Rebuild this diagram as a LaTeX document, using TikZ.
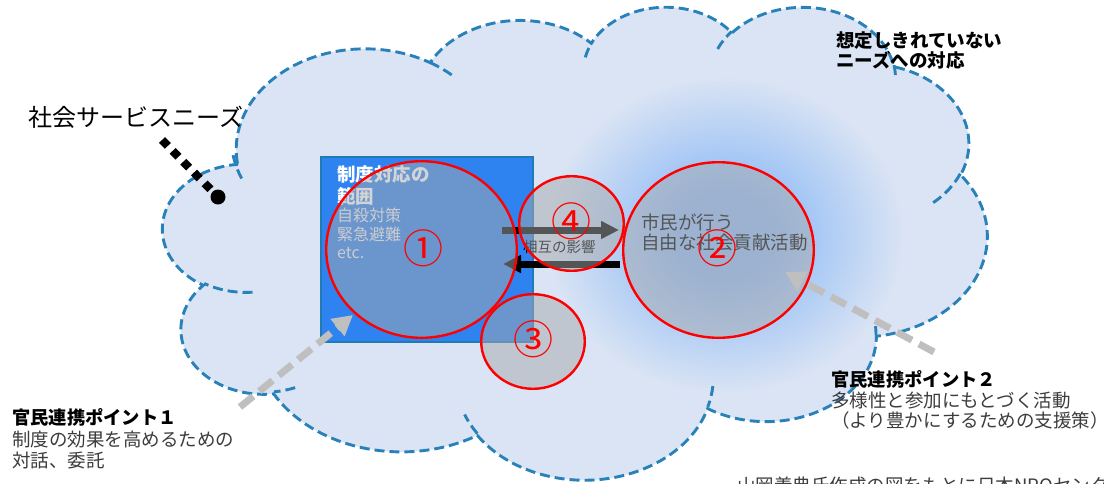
\documentclass[tikz,border=0pt]{standalone}
\usepackage{fontspec}
\setmainfont{Noto Sans CJK JP}
\usetikzlibrary{arrows.meta,shapes.geometric}
\definecolor{cloudfill}{RGB}{218,228,244}
\definecolor{clouddash}{RGB}{40,130,185}
\definecolor{glowc}{RGB}{145,188,245}
\definecolor{boxblue}{RGB}{46,131,240}
\definecolor{boxedge}{RGB}{32,122,180}
\definecolor{circgrey}{RGB}{168,170,172}
\definecolor{arrgrey}{RGB}{191,191,191}
\definecolor{bodytext}{RGB}{60,60,60}
\definecolor{boxtext}{RGB}{238,240,246}
\pgfdeclareradialshading{glowshade}{\pgfpoint{0bp}{0bp}}{color(0bp)=(glowc); color(7bp)=(glowc); color(25bp)=(cloudfill); color(50bp)=(cloudfill)}
\newcommand\fsz[1]{\fontsize{#1pt}{#1pt}\selectfont}
% elliptical arc in DrawingML style: visual start angle, sweep
\newcommand\carc[5]{%
  \pgfmathsetmacro\cltmpa{atan2((#2)*sin(#4),(#3)*cos(#4))}%
  \pgfmathsetmacro\cltmpb{atan2((#2)*sin((#4)+(#5)),(#3)*cos((#4)+(#5)))}%
  \pgfmathsetmacro\cltmpb{(\cltmpb)+360*round(((\cltmpa)+(#5)-(\cltmpb))/360)}%
  \expandafter\xdef\csname clarc#1\endcsname{arc[x radius=#2,y radius=#3,start angle=\cltmpa,end angle=\cltmpb]}%
}
\carc{A}{67.53}{91.90}{-190.4875}{123.7805}
\carc{B}{53.33}{72.67}{-144.1024}{89.9452}
\carc{C}{43.65}{59.45}{-145.8079}{99.7230}
\carc{D}{48.57}{65.95}{-130.9861}{117.2417}
\carc{E}{53.33}{72.73}{-78.7089}{109.0269}
\carc{F}{67.75}{92.20}{-46.2673}{130.2690}
\carc{G}{57.85}{78.67}{0.6250}{114.0333}
\carc{H}{67.52}{92.15}{22.4516}{115.1726}
\carc{I}{77.20}{105.43}{66.2426}{75.7110}
\carc{J}{43.60}{59.18}{-274.9421}{146.7356}
\carc{K}{43.45}{59.45}{-246.8285}{152.5189}
\carc{a}{43.45}{59.45}{86.7420}{26.4295}
\carc{b}{43.60}{59.18}{73.6105}{11.4475}
\carc{c}{67.52}{92.15}{137.6242}{14.0811}
\carc{d}{67.52}{92.15}{6.4533}{15.9984}
\carc{e}{57.85}{78.67}{0.6250}{-8}
\carc{f}{53.33}{72.73}{30.3180}{27.7515}
\carc{g}{48.57}{65.95}{-13.7443}{14.8589}
\carc{h}{48.57}{65.95}{-149.1815}{18.1954}
\carc{i}{43.65}{59.45}{-163.4943}{17.6864}
\carc{j}{67.53}{91.90}{-66.7070}{12.3194}
\carc{k}{67.53}{91.90}{150.0}{20.2952}
\def\cloudmain{(39.00,143.70) \clarcA \clarcB \clarcC \clarcD \clarcE \clarcF \clarcG \clarcH \clarcI \clarcJ \clarcK -- cycle}
\def\cloudinner{(46.93,261.77) \clarca (69.28,348.99) \clarcb (164.78,390.90) \clarcc (288.27,347.51) \clarcd (373.81,300.90) \clarce (417.98,153.54) \clarcf (383.24,54.26) \clarcg (290.78,39.52) \clarch (221.41,47.20) \clarci (140.00,51.92) \clarcj (41.27,157.89) \clarck}
\begin{document}
\begin{tikzpicture}[x=1pt,y=-1pt,
  cloudline/.style={draw=clouddash, line width=2.9pt, dash pattern=on 10pt off 5pt},
  zone/.style={ellipse, draw=red, line width=2.4pt, fill=circgrey, fill opacity=0.5, draw opacity=1, inner sep=0pt},
  zonenum/.style={text=red, font=\fsz{40}, inner sep=0pt},
  lbl/.style={anchor=base west, inner sep=0pt},
  blkarrow/.style={draw=black, line width=7pt, -{Triangle[length=18pt,width=17pt]}},
  greyarrow/.style={draw=arrgrey, line width=7pt, dash pattern=on 17pt off 8pt, -{Triangle[length=20pt,width=21pt]}}
]
\useasboundingbox (0,0) rectangle (1104,483);
\clip (0,0) rectangle (1104,483);
% cloud
\begin{scope}[shift={(163,5.7)},x=1.9074pt,y=-1.0944pt]
  \fill[cloudfill] \cloudmain;
  \begin{scope}
    \clip \cloudmain;
    \shade[shading=glowshade] (294.64,209.5) ellipse [x radius=94, y radius=145];
  \end{scope}
  \path[cloudline] \cloudmain;
  \path[cloudline] \cloudinner;
\end{scope}
% blue box
\node[draw=boxedge, fill=boxblue, line width=2pt, minimum width=212pt, minimum height=185pt, inner sep=0pt] (box) at (427,249.5) {};
\node[lbl, text=white, font=\fsz{18.5}\bfseries] (bt1) at (337,181) {制度対応の};
\node[lbl, text=white, font=\fsz{18.5}\bfseries] (bt2) at (337,203) {範囲};
\node[lbl, text=boxtext, font=\fsz{16}] (bt3) at (337,221) {自殺対策};
\node[lbl, text=boxtext, font=\fsz{16}] (bt4) at (337,240) {緊急避難};
\node[lbl, text=boxtext, font=\fsz{16}] (bt5) at (337,258) {etc.};
% mutual influence arrows
\coordinate (ua1) at (502,230); \coordinate (ua2) at (619,230);
\draw[blkarrow] (ua1) -- (ua2);
\coordinate (la1) at (620,264); \coordinate (la2) at (503,264);
\draw[blkarrow] (la1) -- (la2);
\node[lbl, text=black, font=\fsz{14.5}] (mutual) at (523,252) {相互の影響};
\node[lbl, text=black, font=\fsz{18.5}] (cv1) at (641,229) {市民が行う};
\node[lbl, text=black, font=\fsz{18.5}] (cv2) at (641,249) {自由な社会貢献活動};
% zones
\node[zone, minimum width=190.6pt, minimum height=176.6pt] (c1) at (421.5,249.5) {};
\node[zone, minimum width=104.6pt, minimum height=94.6pt] (c4) at (571.5,223.5) {};
\node[zone, minimum width=103.6pt, minimum height=94.6pt] (c3) at (533,341.5) {};
\node[zone, minimum width=190.6pt, minimum height=175.6pt] (c2) at (718.5,250) {};
\node[zonenum] (d1) at (423.5,248.5) {①};
\node[zonenum] (d2) at (717,248) {②};
\node[zonenum] (d3) at (533,339) {③};
\node[zonenum] (d4) at (571,221) {④};
% social service needs
\node[lbl, text=black, font=\fsz{24}] (needs) at (28,126.5) {社会サービスニーズ};
\coordinate (ds) at (162,140);
\node[circle, fill=black, minimum size=15pt, inner sep=0pt] (dot) at (218,197) {};
\draw[line width=8.3pt, dash pattern=on 8.3pt off 6.9pt] (ds) -- (dot);
% grey arrows
\coordinate (g1s) at (240,407); \coordinate (g1e) at (353,315);
\draw[greyarrow] (g1s) -- (g1e);
\coordinate (g2s) at (934,352); \coordinate (g2e) at (785,272);
\draw[greyarrow] (g2s) -- (g2e);
% labels
\node[lbl, text=black, font=\fsz{18.5}\bfseries] (un1) at (836,47) {想定しきれていない};
\node[lbl, text=black, font=\fsz{18.5}\bfseries] (un2) at (836,67) {ニーズへの対応};
\node[lbl, text=black, font=\fsz{18.3}\bfseries] (p1t) at (12,424) {官民連携ポイント１};
\node[lbl, text=bodytext, font=\fsz{18.5}] (p1a) at (12,446) {制度の効果を高めるための};
\node[lbl, text=bodytext, font=\fsz{18.5}] (p1b) at (12,467) {対話、委託};
\node[lbl, text=black, font=\fsz{18.3}\bfseries] (p2t) at (831,386) {官民連携ポイント２};
\node[lbl, text=bodytext, font=\fsz{18.5}] (p2a) at (831,407) {多様性と参加にもとづく活動};
\node[lbl, text=bodytext, font=\fsz{18.5}] (p2b) at (831,427) {（より豊かにするための支援策）};
\node[lbl, text=bodytext, font=\fsz{18.5}] (credit) at (737,492) {山岡義典氏作成の図をもとに日本NPOセンター};
\end{tikzpicture}
\end{document}
